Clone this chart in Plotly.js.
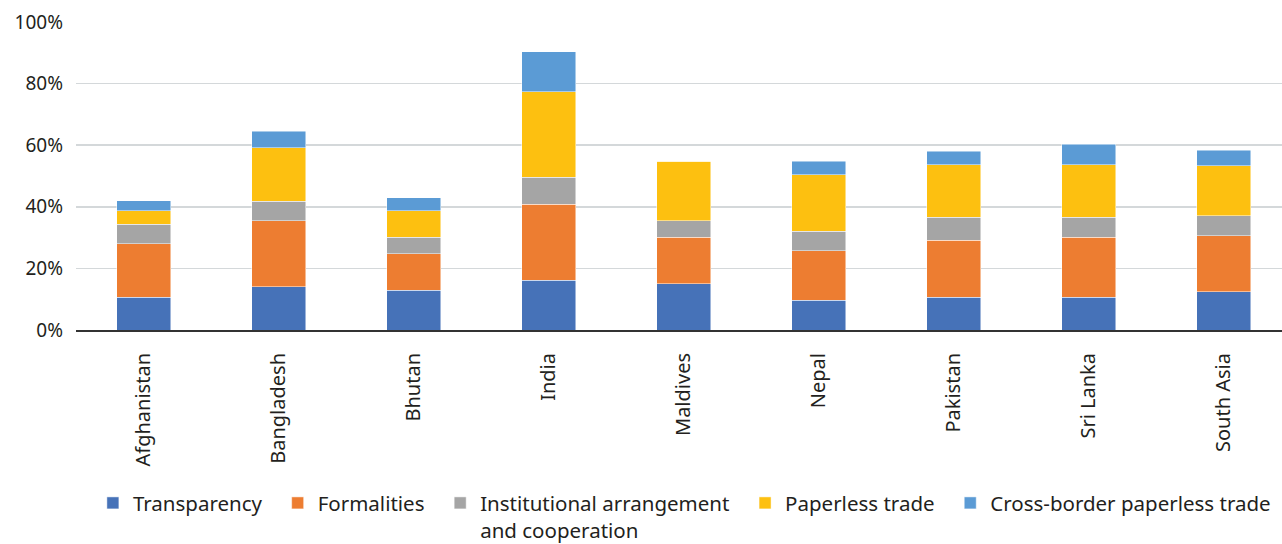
<!DOCTYPE html>
<html>
<head>
<meta charset="utf-8">
<script src="https://cdn.plot.ly/plotly-3.0.1.min.js"></script>
<style>html,body{margin:0;padding:0;background:#fff;}#chart{width:1282px;height:544px;}</style>
</head>
<body>
<div id="chart"></div>
<script>
const categories = ["Afghanistan","Bangladesh","Bhutan","India","Maldives","Nepal","Pakistan","Sri Lanka","South Asia"];
const transparency = [10.6, 14.0, 12.9, 16.1, 15.0, 9.7, 10.7, 10.7, 12.4];
const formalities = [17.4, 21.5, 11.9, 24.8, 15.1, 16.1, 18.4, 19.4, 18.2];
const institutional = [6.3, 6.3, 5.3, 8.7, 5.3, 6.3, 7.5, 6.5, 6.5];
const paperless = [4.4, 17.3, 8.6, 27.8, 19.4, 18.3, 17.1, 17.1, 16.2];
const crossBorder = [3.2, 5.5, 4.3, 12.9, 0, 4.4, 4.3, 6.6, 5.1];
const seriesNames = ["Transparency","Formalities","Institutional arrangement<br>and cooperation","Paperless trade","Cross-border paperless trade"];
const yTicks = [0, 20, 40, 60, 80, 100];

const colors = ["#4672B8","#ED7D31","#A5A5A5","#FDC010","#5B9BD5"];
const series = [transparency, formalities, institutional, paperless, crossBorder];
const FONT = "'Noto Sans', 'Open Sans', sans-serif";
const PAD = "\u00a0\u00a0";

const traces = series.map((vals, i) => ({
  type: "bar",
  x: categories,
  y: vals,
  name: i < series.length - 1 ? seriesNames[i].replace("<br>", PAD + "<br>") + (i === 2 ? "" : PAD) : seriesNames[i],
  marker: {color: colors[i], line: {color: "rgba(255,255,255,0.6)", width: 0.8}},
  hoverinfo: "x+y+name"
}));

const layout = {
  barmode: "stack",
  bargap: 0.6,
  width: 1282,
  height: 544,
  margin: {l: 76, r: 0, t: 22, b: 214},
  paper_bgcolor: "#fff",
  plot_bgcolor: "#fff",
  font: {family: FONT, size: 19, color: "#231f20"},
  xaxis: {
    range: [-0.5, 8.433],
    tickangle: -90,
    showgrid: false,
    showline: true,
    linecolor: "#333",
    linewidth: 2,
    ticks: "",
    automargin: false,
    ticklabelstandoff: 13,
    tickfont: {size: 20, family: FONT, color: "#231f20"}
  },
  yaxis: {
    range: [0, 100],
    tickvals: yTicks,
    ticktext: yTicks.map(v => v + "%"),
    showgrid: true,
    gridcolor: "#d4d8da",
    gridwidth: 1.5,
    zeroline: false,
    showline: false,
    ticks: "",
    automargin: false,
    ticklabelstandoff: 12,
    tickfont: {size: 19, family: FONT, color: "#231f20"}
  },
  legend: {
    orientation: "h",
    x: 0.014,
    xanchor: "left",
    xref: "paper",
    yref: "container",
    y: 0.112,
    yanchor: "top",
    valign: "top",
    font: {size: 20.5, family: FONT, color: "#231f20"},
    traceorder: "normal"
  },
  showlegend: true
};

Plotly.newPlot("chart", traces, layout, {displayModeBar: false, staticPlot: true});
</script>
</body>
</html>
